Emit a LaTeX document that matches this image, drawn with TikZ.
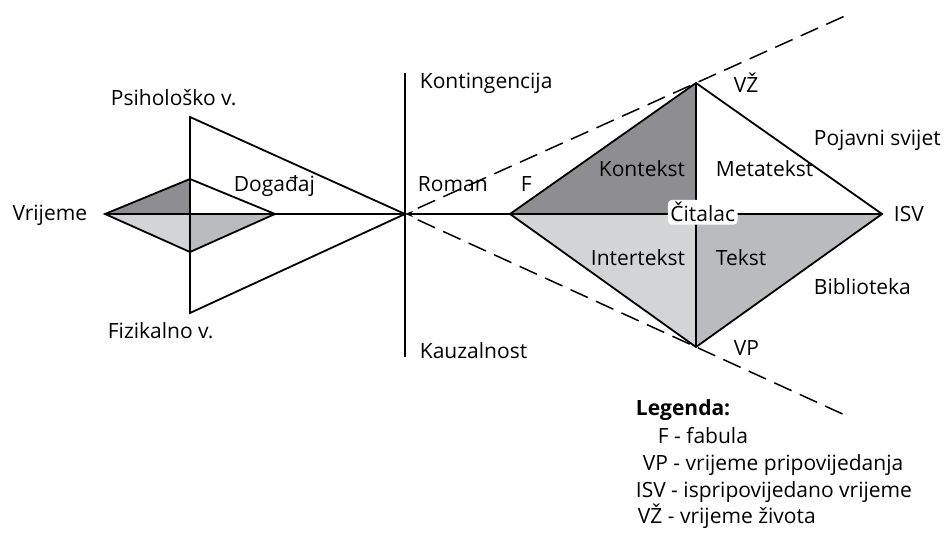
\documentclass[tikz,border=0pt]{standalone}
\usepackage{fontspec}
\setmainfont{Open Sans}
\usepackage{tikz}
\usetikzlibrary{calc, positioning, arrows.meta}
\definecolor{darkquad}{RGB}{142,142,146}
\definecolor{midquad}{RGB}{186,187,191}
\definecolor{lightquad}{RGB}{211,212,214}

\begin{document}
\begin{tikzpicture}[x=1pt, y=-1pt, line width=1.8pt, >={Stealth[length=8pt, width=6pt]},
    lbl/.style={inner sep=0pt, anchor=base west, font=\fontsize{21}{24}\selectfont},
    dashline/.style={dash pattern=on 19pt off 9pt, line width=1.5pt}]
  \useasboundingbox (0,0) rectangle (950,540);
  % small diamond
  \coordinate (vr) at (105,214);
  \coordinate (dt) at (190,179);
  \coordinate (dr) at (275,214);
  \coordinate (db) at (190,252);
  \coordinate (dc) at (190,214);
  % triangle and axis
  \coordinate (pt) at (190,117);
  \coordinate (pb) at (190,313);
  \coordinate (ro) at (405,214);
  \coordinate (kt) at (405,73);
  \coordinate (kb) at (405,357);
  % big diamond
  \coordinate (fa) at (510,214);
  \coordinate (vz) at (696,83);
  \coordinate (is) at (882,214);
  \coordinate (vp) at (696,347);
  \coordinate (ce) at (696,214);

  \fill[darkquad] (vr) -- (dt) -- (dc) -- cycle;
  \fill[lightquad] (vr) -- (db) -- (dc) -- cycle;
  \fill[midquad] (dc) -- (db) -- (dr) -- cycle;
  \fill[darkquad] (fa) -- (vz) -- (ce) -- cycle;
  \fill[lightquad] (fa) -- (vp) -- (ce) -- cycle;
  \fill[midquad] (ce) -- (vp) -- (is) -- cycle;

  \draw (vr) -- (dt) -- (dr) -- (db) -- cycle;
  \draw (pt) -- (ro) -- (pb) -- cycle;
  \draw (vr) -- (ro);
  \draw (kt) -- (kb);
  \draw (fa) -- (vz) -- (is) -- (vp) -- cycle;
  \draw (fa) -- (is);
  \draw (vz) -- (vp);
  \draw[dashline] ($(ro)!14pt!(vz)$) -- ($(ro)!1.517!(vz)$);
  \draw[dashline] ($(ro)!14pt!(vp)$) -- ($(ro)!1.517!(vp)$);
  \draw[->, line width=1.3pt] (fa) -- (ro);

  \node[lbl, fill=white, rounded corners=4pt, inner sep=2.5pt] (cit) at (667,222) {Čitalac};

  \node[lbl, anchor=base east] (vrt) at (88,221) {Vrijeme};
  \node[lbl] (psi) at (110,106) {Psihološko v.};
  \node[lbl] (dog) at (233,192) {Događaj};
  \node[lbl] (fiz) at (107,338) {Fizikalno v.};
  \node[lbl] (kon) at (419,89) {Kontingencija};
  \node[lbl] (rom) at (417,192) {Roman};
  \node[lbl] (ft) at (520,192) {F};
  \node[lbl] (kau) at (419,358) {Kauzalnost};
  \node[lbl] (ktx) at (598,177) {Kontekst};
  \node[lbl] (mtx) at (715,177) {Metatekst};
  \node[lbl] (itx) at (590,265) {Intertekst};
  \node[lbl] (tkx) at (715,265) {Tekst};
  \node[lbl] (vzt) at (733,93) {VŽ};
  \node[lbl] (poj) at (813,146) {Pojavni svijet};
  \node[lbl] (ist) at (893,222) {ISV};
  \node[lbl] (bib) at (813,294) {Biblioteka};
  \node[lbl] (vpt) at (733,355) {VP};

  % legend
  \node[lbl, font=\fontsize{21}{24}\selectfont\bfseries] (leg) at (635,415) {Legenda:};
  \node[lbl] (lf) at (657,443) {F - fabula};
  \node[lbl] (lvp) at (642,470) {VP - vrijeme pripovijedanja};
  \node[lbl] (lis) at (635,497) {ISV - ispripovijedano vrijeme};
  \node[lbl] (lvz) at (637,523) {VŽ - vrijeme života};
\end{tikzpicture}
\end{document}
